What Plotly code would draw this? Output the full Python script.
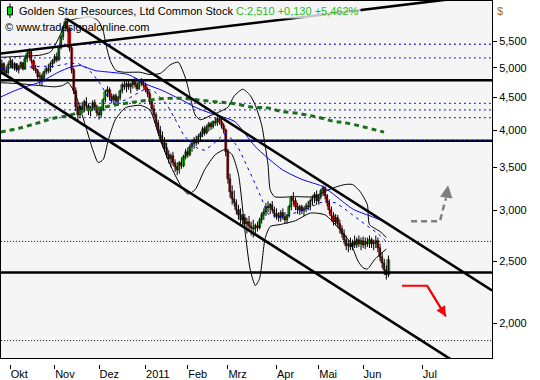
import math
import plotly.graph_objects as go

# ---------------- data ----------------
day = list(range(-4, 180))  # trading-day index, 0 = 1 Oct 2010

open_ = [
    4.93, 5.06, 4.95, 4.90, 5.05, 5.12, 5.00, 5.06, 4.96, 5.02,
    5.08, 4.98, 5.16, 5.26, 5.30, 5.12, 4.98, 4.94, 4.84, 4.86,
    4.78, 4.92, 4.98, 4.95, 5.06, 5.12, 5.20, 5.14, 5.36, 5.58,
    5.76, 5.90, 5.74, 5.36, 4.96, 4.60, 4.35, 4.22, 4.34, 4.30,
    4.42, 4.36, 4.28, 4.32, 4.40, 4.34, 4.25, 4.22, 4.30, 4.45,
    4.58, 4.62, 4.50, 4.45, 4.52, 4.44, 4.48, 4.60, 4.70, 4.66,
    4.72, 4.66, 4.70, 4.75, 4.70, 4.64, 4.74, 4.78, 4.70, 4.62,
    4.55, 4.42, 4.32, 4.22, 4.10, 4.00, 3.92, 3.82, 3.75, 3.66,
    3.60, 3.64, 3.56, 3.50, 3.46, 3.55, 3.52, 3.63, 3.70, 3.66,
    3.77, 3.80, 3.86, 3.82, 3.90, 3.95, 4.02, 3.96, 4.05, 4.08,
    4.04, 4.12, 4.10, 4.16, 4.12, 4.06, 4.00, 3.70, 3.36, 3.20,
    3.12, 3.08, 3.00, 2.95, 2.90, 2.92, 2.86, 2.88, 2.84, 2.82,
    2.80, 2.84, 2.82, 2.90, 2.95, 2.98, 3.04, 3.02, 3.06, 3.00,
    2.96, 2.94, 2.92, 2.97, 2.93, 2.90, 2.94, 3.04, 3.14, 3.10,
    3.04, 3.00, 3.03, 2.99, 3.01, 3.05, 3.03, 3.10, 3.13, 3.17,
    3.10, 3.15, 3.22, 3.25, 3.16, 3.08, 3.00, 2.94, 2.88, 2.92,
    2.86, 2.80, 2.76, 2.70, 2.64, 2.66, 2.63, 2.68, 2.65, 2.70,
    2.66, 2.69, 2.65, 2.68, 2.66, 2.70, 2.66, 2.67, 2.69, 2.62,
    2.54, 2.48, 2.42, 2.38]

high = [
    5.15, 5.10, 5.02, 5.10, 5.18, 5.16, 5.10, 5.08, 5.05, 5.12,
    5.10, 5.20, 5.30, 5.36, 5.32, 5.15, 5.05, 4.98, 4.92, 4.90,
    4.95, 5.02, 5.06, 5.10, 5.16, 5.25, 5.28, 5.40, 5.62, 5.80,
    5.98, 6.00, 5.78, 5.40, 5.00, 4.66, 4.42, 4.38, 4.42, 4.46,
    4.50, 4.40, 4.36, 4.45, 4.46, 4.38, 4.32, 4.35, 4.48, 4.62,
    4.68, 4.66, 4.56, 4.55, 4.56, 4.52, 4.62, 4.74, 4.78, 4.76,
    4.80, 4.74, 4.78, 4.82, 4.76, 4.78, 4.82, 4.80, 4.74, 4.66,
    4.60, 4.46, 4.38, 4.26, 4.15, 4.06, 3.98, 3.90, 3.82, 3.72,
    3.68, 3.70, 3.60, 3.56, 3.58, 3.62, 3.66, 3.74, 3.76, 3.80,
    3.84, 3.90, 3.92, 3.94, 3.98, 4.05, 4.06, 4.08, 4.12, 4.12,
    4.14, 4.18, 4.20, 4.22, 4.16, 4.10, 4.02, 3.74, 3.42, 3.28,
    3.22, 3.12, 3.06, 3.02, 2.96, 2.96, 2.92, 2.94, 2.88, 2.90,
    2.86, 2.88, 2.92, 2.98, 3.02, 3.08, 3.10, 3.08, 3.10, 3.04,
    3.02, 2.98, 3.00, 3.02, 2.98, 2.96, 3.06, 3.16, 3.20, 3.14,
    3.08, 3.06, 3.06, 3.04, 3.08, 3.10, 3.12, 3.16, 3.20, 3.22,
    3.18, 3.24, 3.28, 3.27, 3.18, 3.12, 3.04, 2.98, 2.96, 2.95,
    2.90, 2.84, 2.80, 2.74, 2.70, 2.72, 2.70, 2.74, 2.72, 2.74,
    2.72, 2.73, 2.72, 2.72, 2.74, 2.72, 2.70, 2.74, 2.72, 2.66,
    2.58, 2.52, 2.46, 2.55]

low = [
    4.88, 4.90, 4.85, 4.88, 5.00, 4.98, 4.95, 4.93, 4.90, 4.98,
    4.95, 4.96, 5.10, 5.18, 5.08, 4.95, 4.90, 4.80, 4.70, 4.68,
    4.75, 4.88, 4.90, 4.92, 5.00, 5.08, 5.10, 5.12, 5.34, 5.52,
    5.70, 5.68, 5.30, 4.90, 4.55, 4.28, 4.14, 4.18, 4.25, 4.26,
    4.32, 4.22, 4.20, 4.28, 4.30, 4.20, 4.15, 4.18, 4.28, 4.42,
    4.50, 4.45, 4.40, 4.38, 4.40, 4.38, 4.45, 4.56, 4.62, 4.58,
    4.62, 4.56, 4.64, 4.66, 4.60, 4.62, 4.68, 4.66, 4.58, 4.50,
    4.38, 4.28, 4.18, 4.05, 3.95, 3.86, 3.78, 3.70, 3.62, 3.55,
    3.50, 3.52, 3.44, 3.40, 3.42, 3.48, 3.50, 3.60, 3.62, 3.64,
    3.70, 3.74, 3.78, 3.80, 3.84, 3.90, 3.92, 3.94, 3.98, 4.00,
    4.02, 4.06, 4.06, 4.08, 4.02, 3.95, 3.64, 3.30, 3.14, 3.06,
    3.04, 2.96, 2.90, 2.86, 2.84, 2.82, 2.76, 2.80, 2.74, 2.72,
    2.74, 2.78, 2.80, 2.86, 2.90, 2.94, 2.98, 2.96, 2.98, 2.92,
    2.90, 2.88, 2.88, 2.90, 2.86, 2.86, 2.92, 3.00, 3.06, 3.00,
    2.96, 2.95, 2.96, 2.94, 2.98, 3.00, 3.00, 3.05, 3.08, 3.06,
    3.06, 3.12, 3.16, 3.12, 3.04, 2.96, 2.90, 2.84, 2.84, 2.82,
    2.76, 2.72, 2.66, 2.60, 2.58, 2.60, 2.60, 2.62, 2.62, 2.63,
    2.60, 2.62, 2.61, 2.63, 2.62, 2.62, 2.60, 2.62, 2.58, 2.50,
    2.44, 2.38, 2.34, 2.36]

close = [
    5.06, 4.95, 4.90, 5.05, 5.12, 5.00, 5.06, 4.96, 5.02, 5.08,
    4.98, 5.16, 5.26, 5.30, 5.12, 4.98, 4.94, 4.84, 4.86, 4.78,
    4.92, 4.98, 4.95, 5.06, 5.12, 5.20, 5.14, 5.36, 5.58, 5.76,
    5.90, 5.74, 5.36, 4.96, 4.60, 4.35, 4.22, 4.34, 4.30, 4.42,
    4.36, 4.28, 4.32, 4.40, 4.34, 4.25, 4.22, 4.30, 4.45, 4.58,
    4.62, 4.50, 4.45, 4.52, 4.44, 4.48, 4.60, 4.70, 4.66, 4.72,
    4.66, 4.70, 4.75, 4.70, 4.64, 4.74, 4.78, 4.70, 4.62, 4.55,
    4.42, 4.32, 4.22, 4.10, 4.00, 3.92, 3.82, 3.75, 3.66, 3.60,
    3.64, 3.56, 3.50, 3.46, 3.55, 3.52, 3.63, 3.70, 3.66, 3.77,
    3.80, 3.86, 3.82, 3.90, 3.95, 4.02, 3.96, 4.05, 4.08, 4.04,
    4.12, 4.10, 4.16, 4.12, 4.06, 4.00, 3.70, 3.36, 3.20, 3.12,
    3.08, 3.00, 2.95, 2.90, 2.92, 2.86, 2.88, 2.84, 2.82, 2.80,
    2.84, 2.82, 2.90, 2.95, 2.98, 3.04, 3.02, 3.06, 3.00, 2.96,
    2.94, 2.92, 2.97, 2.93, 2.90, 2.94, 3.04, 3.14, 3.10, 3.04,
    3.00, 3.03, 2.99, 3.01, 3.05, 3.03, 3.10, 3.13, 3.17, 3.10,
    3.15, 3.22, 3.25, 3.16, 3.08, 3.00, 2.94, 2.88, 2.92, 2.86,
    2.80, 2.76, 2.70, 2.64, 2.66, 2.63, 2.68, 2.65, 2.70, 2.66,
    2.69, 2.65, 2.68, 2.66, 2.70, 2.66, 2.67, 2.69, 2.62, 2.54,
    2.48, 2.42, 2.38, 2.51]

month_pos = [0, 21, 42, 64, 84, 103, 126, 146, 167, 195]
month_lbl = ["Okt", "Nov", "Dez", "2011", "Feb", "Mrz", "Apr", "Mai", "Jun", "Jul"]

price_ticks = [5.5, 5.0, 4.5, 4.0, 3.5, 3.0, 2.5, 2.0]
price_lbls = ["5,500", "5,000", "4,500", "4,000", "3,500", "3,000", "2,500", "2,000"]

# Bollinger bands (20) - upper / lower
bb_up_x = [-4.7, 5, 14, 19, 21, 24, 26, 31, 38, 41.6, 44, 45.4, 47.3, 50, 54,
           61.5, 66, 71, 76, 79.5, 83, 85, 87.5, 90, 94.6, 99, 103, 106, 110, 113.5,
           116, 119, 120.6, 122, 123, 125, 135, 144, 149, 154, 158.5, 162, 165.5, 169, 170,
           175, 178]
bb_up_y = [5.19, 5.21, 5.23, 5.29, 5.41, 5.66, 5.88, 5.96, 6.00, 5.92, 5.70, 5.41, 5.13, 4.95, 4.92,
           4.92, 4.88, 4.90, 5.06, 5.10, 4.81, 4.53, 4.22, 4.15, 4.21, 4.27, 4.34, 4.52, 4.63, 4.53,
           4.37, 4.07, 3.79, 3.53, 3.23, 3.15, 3.15, 3.15, 3.21, 3.26, 3.29, 3.29, 3.21, 3.06, 2.85,
           2.78, 2.72]
bb_lo_x = [-4.7, 5, 14, 21, 24.6, 27.4, 31, 35.5, 39, 41.6, 44, 46.4, 49.7, 54.4, 61.5,
           66, 71, 75.7, 80.4, 84, 87.5, 92, 97, 101.7, 105, 108, 111, 113.5, 116, 118,
           120.6, 123, 127.7, 135, 142, 149, 156, 161, 164.6, 167, 169, 172.7, 178]
bb_lo_y = [4.74, 4.72, 4.69, 4.67, 4.69, 4.74, 4.53, 4.07, 3.73, 3.56, 3.60, 3.86, 4.15, 4.33, 4.37,
           4.30, 3.86, 3.53, 3.29, 3.18, 3.23, 3.47, 3.66, 3.73, 3.66, 3.41, 2.80, 2.43, 2.29, 2.35,
           2.71, 2.83, 2.85, 2.89, 2.97, 2.95, 2.80, 2.67, 2.50, 2.44, 2.43, 2.52, 2.61]

# Moving averages
ma20_x = [-4, 0, 5, 10, 15, 20, 25, 28, 32, 36, 39, 43, 47, 51, 55, 60, 64, 68, 71, 74,
          78, 82, 86, 89, 92, 96, 101, 104, 108, 111, 115, 118, 122, 126, 132, 137, 142, 146,
          150, 154, 158, 162, 166, 170, 174, 179]
ma20_y = [4.98, 5.00, 5.00, 5.02, 5.03, 5.02, 5.05, 5.08, 5.08, 5.00, 4.89, 4.70, 4.45, 4.42,
          4.46, 4.56, 4.64, 4.60, 4.50, 4.39, 4.16, 3.93, 3.80, 3.74, 3.72, 3.80, 3.94, 3.90,
          3.75, 3.58, 3.35, 3.18, 2.96, 2.93, 2.95, 2.99, 3.03, 3.08, 3.10, 3.08, 3.02, 2.95,
          2.88, 2.82, 2.76, 2.66]
ma50_x = [-4.7, 2.4, 8.0, 14.2, 22.7, 28.4, 33.1, 40.2, 47.3, 55.8, 65.3, 71.9, 81.4, 87.5,
          94.6, 101.7, 106.4, 115.9, 128.7, 138.1, 147.6, 152.3, 162.3, 170.3, 178.3]
ma50_y = [4.50, 4.61, 4.68, 4.75, 4.92, 5.01, 5.04, 4.95, 4.92, 4.88, 4.70, 4.61, 4.45, 4.34,
          4.25, 4.18, 4.12, 3.77, 3.47, 3.35, 3.27, 3.19, 3.01, 2.94, 2.87]
ma200_x = [-4.7, 4.7, 12.8, 18.9, 28.4, 36.4, 42.6, 48.7, 58.2, 64.8, 74.3, 81.8, 89.9, 99.3,
           105.5, 115, 121.6, 127.7, 137.2, 145.2, 152.8, 159.4, 176.9]
ma200_y = [3.97, 4.03, 4.10, 4.16, 4.22, 4.30, 4.33, 4.37, 4.42, 4.45, 4.48, 4.48, 4.45, 4.42,
           4.40, 4.34, 4.33, 4.28, 4.24, 4.19, 4.13, 4.10, 3.97]

# Horizontal levels
support_levels = [4.78, 3.85, 2.40]
fib_levels = [5.44, 5.18, 4.40, 4.30, 4.18, 3.85]
dotted_levels = [2.683, 1.88]

# Trend lines (endpoints)
chan_top_x, chan_top_y = [26.0, 228.0], [5.98, 2.25]
chan_bot_x, chan_bot_y = [-4.7, 213.0], [4.93, 1.72]
rise_x, rise_y = [-4.7, 228.0], [5.26, 6.51]

# Forecast arrows
up_fc_x, up_fc_y = [189.7, 203.4, 204.8, 206.2], [2.885, 2.885, 3.01, 3.13]
up_head = (207.2, 3.28)
dn_fc_x, dn_fc_y = [185.4, 197.3, 206.2], [2.289, 2.289, 2.05]

# ---------------- figure ----------------
X0, X1 = -4.4, 228.0
FONT = "Liberation Sans, Arial, sans-serif"
fig = go.Figure()

def hline(v, color, width, dash=None):
    fig.add_trace(go.Scatter(x=[-10, 240], y=[v, v], mode="lines",
                             line=dict(color=color, width=width, dash=dash),
                             hoverinfo="skip", showlegend=False))

for v in dotted_levels:
    hline(v, "black", 1, "1px,2px")
for v in support_levels:
    hline(v, "black", 2.5)
for v in fib_levels:
    hline(v, "#1010d0", 1.3, "1.5px,3.5px")

# candle wicks
wx, wy = [], []
for d, h, l in zip(day, high, low):
    wx += [d, d, None]
    wy += [l, h, None]
fig.add_trace(go.Scatter(x=wx, y=wy, mode="lines", line=dict(color="black", width=1),
                         hoverinfo="skip", showlegend=False))
# candle bodies
body_base = [min(o, c) for o, c in zip(open_, close)]
body_size = [max(abs(c - o), 0.006) for o, c in zip(open_, close)]
body_col = ["#00e000" if c >= o else "#ff0000" for o, c in zip(open_, close)]
fig.add_trace(go.Bar(x=day, y=body_size, base=body_base,
                     marker=dict(color=body_col, line=dict(color="black", width=0.5)),
                     hoverinfo="skip", showlegend=False))

for xs, ys in [(bb_up_x, bb_up_y), (bb_lo_x, bb_lo_y)]:
    fig.add_trace(go.Scatter(x=xs, y=ys, mode="lines",
                             line=dict(color="black", width=1, shape="spline", smoothing=0.6),
                             hoverinfo="skip", showlegend=False))

fig.add_trace(go.Scatter(x=ma50_x, y=ma50_y, mode="lines",
                         line=dict(color="#0000ff", width=1, shape="spline", smoothing=0.6),
                         hoverinfo="skip", showlegend=False))
fig.add_trace(go.Scatter(x=ma20_x, y=ma20_y, mode="lines",
                         line=dict(color="#0000ff", width=1, dash="3px,4px"),
                         hoverinfo="skip", showlegend=False))
fig.add_trace(go.Scatter(x=ma200_x, y=ma200_y, mode="lines",
                         line=dict(color="#1a6e1a", width=3, dash="5px,4px", shape="spline"),
                         hoverinfo="skip", showlegend=False))

for xs, ys in [(chan_top_x, chan_top_y), (chan_bot_x, chan_bot_y), (rise_x, rise_y)]:
    fig.add_trace(go.Scatter(x=xs, y=ys, mode="lines",
                             line=dict(color="black", width=2.6),
                             hoverinfo="skip", showlegend=False))

fig.add_trace(go.Scatter(x=up_fc_x, y=up_fc_y, mode="lines",
                         line=dict(color="#7f7f7f", width=2.5, dash="6px,4px"),
                         hoverinfo="skip", showlegend=False))
fig.add_trace(go.Scatter(x=dn_fc_x, y=dn_fc_y, mode="lines",
                         line=dict(color="#ff0000", width=2),
                         hoverinfo="skip", showlegend=False))

# dummy trace to carry the month axis
fig.add_trace(go.Scatter(x=[X0, X1], y=[3, 3], xaxis="x2", yaxis="y", mode="lines",
                         line=dict(width=0), hoverinfo="skip", showlegend=False))

annotations = [
    dict(x=up_head[0], y=math.log10(up_head[1]), xref="x", yref="y", text="",
         showarrow=True, ax=-2, ay=14, arrowhead=2, arrowsize=1, arrowwidth=2.5,
         arrowcolor="#7f7f7f", standoff=0),
    dict(x=dn_fc_x[-1], y=math.log10(dn_fc_y[-1]), xref="x", yref="y", text="",
         showarrow=True, ax=-19, ay=-31, arrowhead=2, arrowsize=1, arrowwidth=2,
         arrowcolor="#ff0000", standoff=0),
    dict(x=(17 - 1) / 491, y=(366 - 10) / 366, xref="paper", yref="paper",
         xanchor="left", yanchor="middle", showarrow=False,
         text="Golden Star Resources, Ltd Common Stock "
              "<span style='color:#22c022'>C:2,510 +0,130 +5,462%</span>",
         font=dict(family=FONT, size=11, color="black"),
         bgcolor="rgba(245,245,245,0.8)", borderpad=1),
    dict(x=(3 - 1) / 491, y=(366 - 26.5) / 366, xref="paper", yref="paper",
         xanchor="left", yanchor="middle", showarrow=False,
         text="© www.tradesignalonline.com",
         font=dict(family=FONT, size=11, color="black")),
    dict(x=(495 - 1) / 491, y=(366 - 10) / 366, xref="paper", yref="paper",
         xanchor="left", yanchor="middle", showarrow=False, text="$",
         font=dict(family=FONT, size=11, color="#a07000")),
]

shapes = [
    dict(type="line", xref="paper", yref="paper",
         x0=(10 - 1) / 491, x1=(10 - 1) / 491,
         y0=(366 - 2.5) / 366, y1=(366 - 17) / 366,
         line=dict(color="black", width=1)),
    dict(type="rect", xref="paper", yref="paper",
         x0=(7.5 - 1) / 491, x1=(12.5 - 1) / 491,
         y0=(366 - 6) / 366, y1=(366 - 14) / 366,
         line=dict(color="black", width=1), fillcolor="#00dd00"),
]

fig.update_layout(
    width=540, height=380,
    margin=dict(l=1, r=48, t=0, b=14, pad=0),
    paper_bgcolor="white", plot_bgcolor="#f5f5f5",
    font=dict(family=FONT, size=11, color="black"),
    showlegend=False,
    hovermode=False,
    bargap=0,
    xaxis=dict(range=[X0, X1], showticklabels=False, ticks="", showgrid=False,
               zeroline=False, showline=True, linecolor="black", linewidth=1,
               mirror=True),
    xaxis2=dict(range=[X0, X1], overlaying="x", anchor="free", position=0,
                tickmode="array", tickvals=month_pos, ticktext=month_lbl,
                ticks="outside", ticklen=4, tickcolor="black", tickwidth=1,
                ticklabelposition="outside right", showgrid=False, zeroline=False,
                showline=False, tickfont=dict(family=FONT, size=11, color="black")),
    yaxis=dict(type="log", range=[math.log10(1.766), math.log10(6.352)],
               domain=[6 / 366, 1], side="right",
               tickmode="array", tickvals=price_ticks, ticktext=price_lbls,
               ticks="outside", ticklen=4, tickcolor="black",
               showgrid=False, zeroline=False, showline=True, linecolor="black",
               linewidth=1, mirror=True,
               tickfont=dict(family=FONT, size=11, color="black")),
    annotations=annotations,
    shapes=shapes,
)

fig.write_html("out.html",
               config={"displayModeBar": False},
               post_script="document.body.style.margin='0';document.body.style.padding='0';")
